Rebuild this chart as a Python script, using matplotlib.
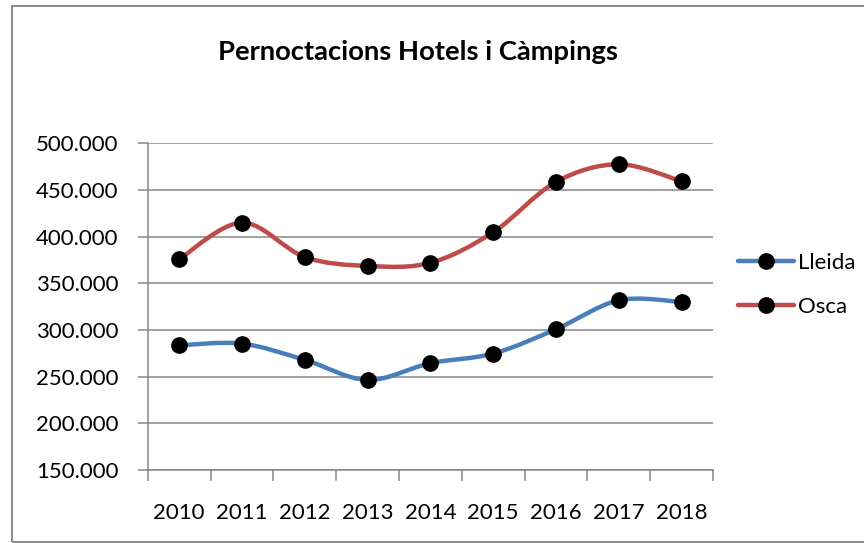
import matplotlib
matplotlib.use("Agg")
import matplotlib.pyplot as plt
from matplotlib.path import Path
from matplotlib.patches import PathPatch, Rectangle
from matplotlib.lines import Line2D
from matplotlib.ticker import FuncFormatter, FixedLocator
import numpy as np

plt.rcParams['font.family'] = ['Lato', 'DejaVu Sans']

years = ["2010", "2011", "2012", "2013", "2014", "2015", "2016", "2017", "2018"]
lleida = [283600, 285400, 268000, 246500, 264400, 274700, 300800, 331800, 330000]
osca = [375800, 415000, 378200, 368600, 372000, 404700, 458600, 477500, 459300]
series_names = ["Lleida", "Osca"]
title = "Pernoctacions Hotels i Càmpings"

blue = "#4A7EBB"
red = "#BE4B48"
grid_c = "#868686"

W, H = 864, 543
fig = plt.figure(figsize=(W / 100, H / 100), dpi=100)
ax = fig.add_axes([147.7 / W, 1 - 470 / H, (713 - 147.7) / W, (470 - 143.3) / H])


def smooth_path(xs, ys):
    pts = np.column_stack([xs, ys]).astype(float)
    n = len(pts)
    verts = [pts[0]]
    codes = [Path.MOVETO]
    for i in range(n - 1):
        p0 = pts[i - 1] if i > 0 else pts[i]
        p1 = pts[i]
        p2 = pts[i + 1]
        p3 = pts[i + 2] if i + 2 < n else pts[i + 1]
        c1 = p1 + (p2 - p0) / 6.0
        c2 = p2 - (p3 - p1) / 6.0
        verts += [c1, c2, p2]
        codes += [Path.CURVE4] * 3
    return Path(verts, codes)


x = np.arange(len(years))
for vals, col in [(lleida, blue), (osca, red)]:
    ax.add_patch(PathPatch(smooth_path(x, vals), facecolor='none', edgecolor=col,
                           lw=3.2, capstyle='round', joinstyle='round', zorder=3))
    ax.plot(x, vals, linestyle='none', marker='o', markersize=11,
            color='black', zorder=4)

ax.set_xlim(-0.5, len(years) - 0.5)
ax.set_ylim(150000, 500000)
ax.set_yticks(np.arange(150000, 500001, 50000))
ax.yaxis.set_major_formatter(FuncFormatter(lambda v, p: f"{int(v):,}".replace(",", ".")))
ax.yaxis.grid(True, color=grid_c, lw=1.1)
ax.set_axisbelow(True)

ax.xaxis.set_major_locator(FixedLocator(np.arange(-0.5, len(years), 1.0)))
ax.xaxis.set_major_formatter(FuncFormatter(lambda v, p: ""))
ax.set_xticks(x, minor=True)
ax.set_xticklabels(years, minor=True)
ax.tick_params(axis='x', which='minor', length=0, pad=24, labelsize=16)
ax.tick_params(axis='x', which='major', length=8, width=1.1, color=grid_c, direction='out')
ax.tick_params(axis='y', length=7, width=1.1, color=grid_c, direction='out', pad=14, labelsize=16)

for s in ['top', 'right']:
    ax.spines[s].set_visible(False)
for s in ['left', 'bottom']:
    ax.spines[s].set_color(grid_c)
    ax.spines[s].set_linewidth(1.1)

fig.text(418 / W, 1 - 60 / H, title, ha='center', va='baseline',
         fontsize=19.7, fontweight='bold')

handles = [Line2D([], [], color=c, lw=3.2, marker='o', markersize=11,
                  markerfacecolor='black', markeredgecolor='black', solid_capstyle='round')
           for c in (blue, red)]
ax.legend(handles, series_names, loc='upper left', bbox_to_anchor=(738 / W, 1 - 253 / H),
          bbox_transform=fig.transFigure, frameon=False, fontsize=16,
          handlelength=2.5, handletextpad=0.2, labelspacing=1.08, borderpad=0,
          borderaxespad=0)

fig.add_artist(Rectangle((12 / W, 1.5 / H), 1.2, (543 - 6 - 1.5) / H,
                         transform=fig.transFigure, facecolor='none',
                         edgecolor='#8c8c8c', lw=1.5, clip_on=False))

fig.savefig("out.png", dpi=100)
